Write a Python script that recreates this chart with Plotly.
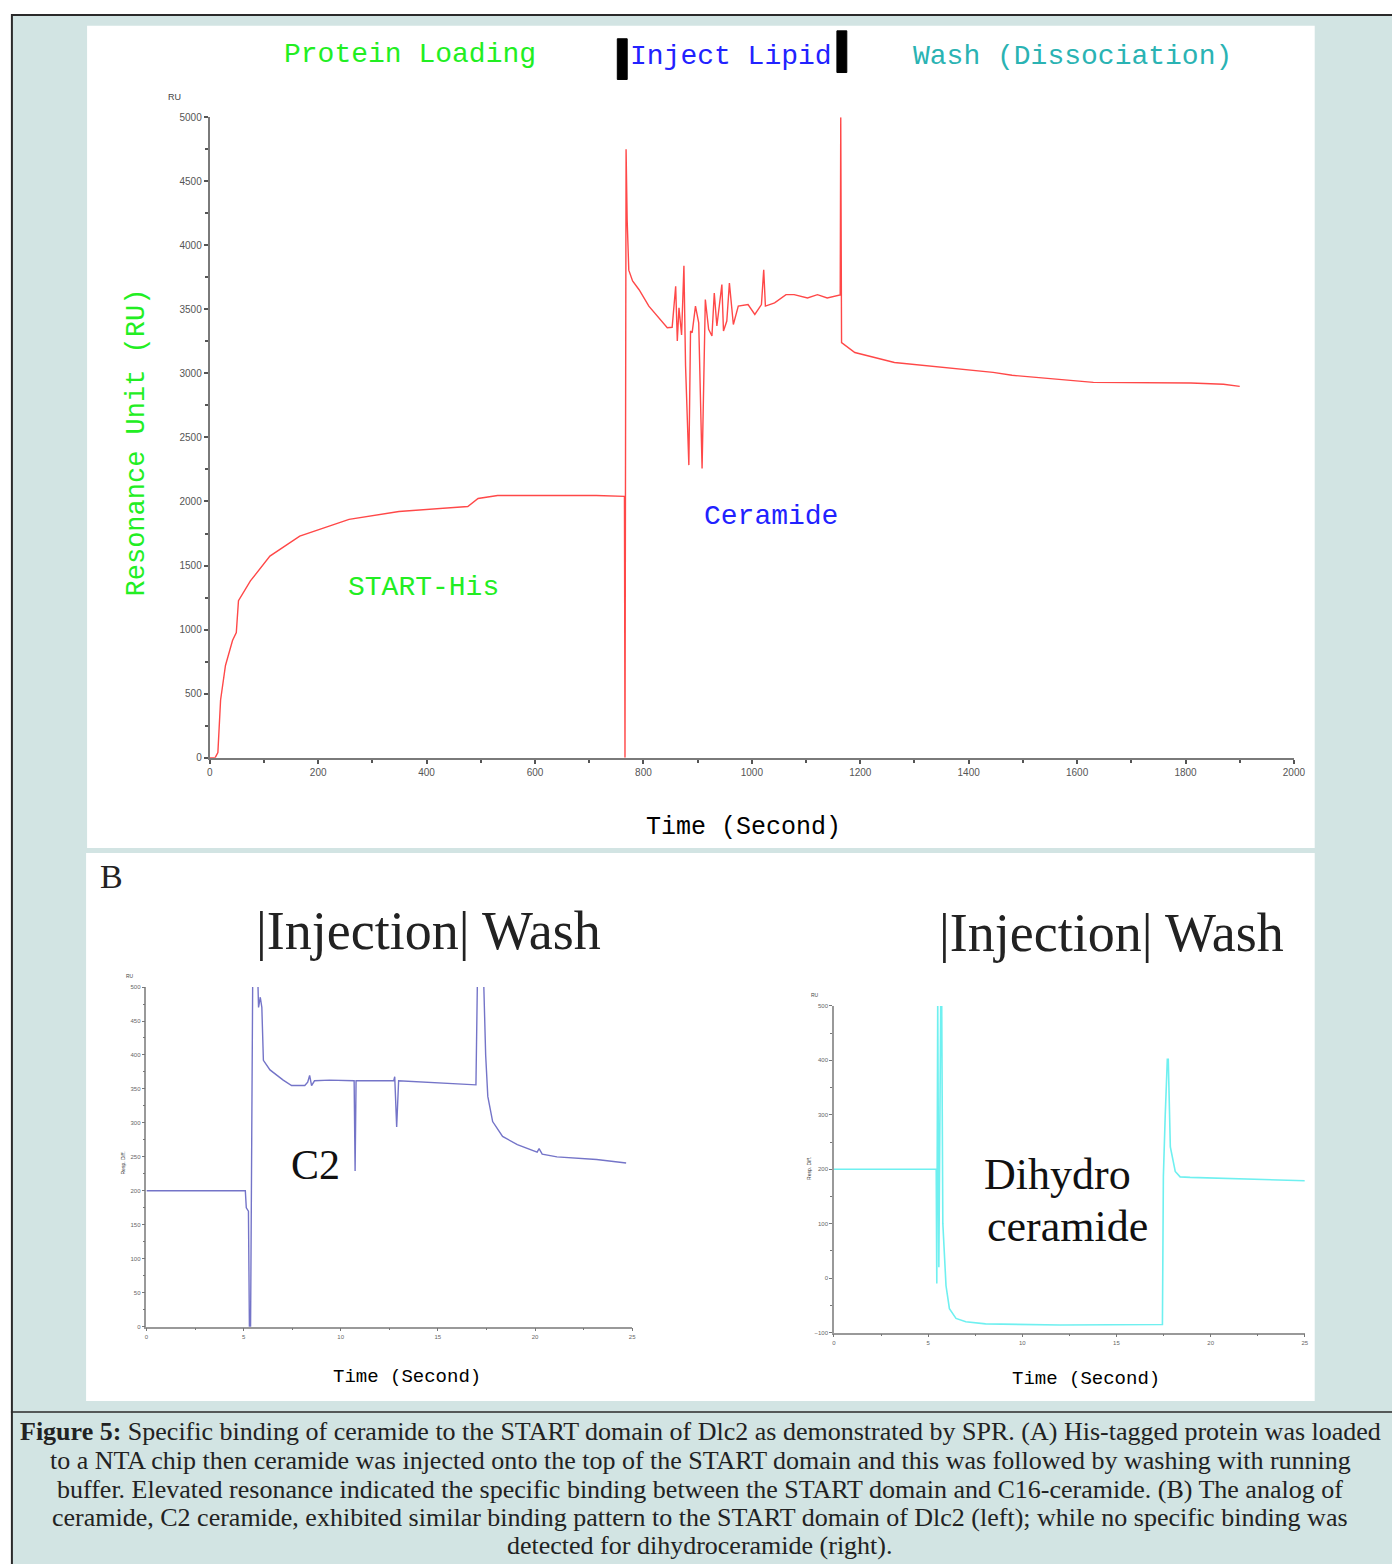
import plotly.graph_objects as go

W, H = 1392, 1564

# ---------------- data ----------------
# Panel A: START-His loading, ceramide injection, wash
a_time = [0, 10, 15, 20, 29, 42, 49, 53, 75, 111, 166, 257, 349, 476, 495, 531, 713, 765,
          766, 768, 770, 773, 780, 792, 810, 828, 844, 853, 859.5, 862.5, 865.6, 870.4,
          874.7, 877.7, 883.8, 886.9, 889.9, 896, 902, 908.2, 914.2, 920.3, 926.4, 930.7,
          935.5, 944.7, 947.7, 953.8, 958.6, 965.9, 975, 993, 1005.5, 1017.7, 1021.9, 1025,
          1042, 1063, 1078, 1102.7, 1121, 1139, 1163, 1164, 1165.5, 1190, 1263, 1445, 1480,
          1630, 1810, 1870, 1900]
a_ru = [0, 0, 40, 450, 720, 915, 977, 1225, 1380, 1574, 1729, 1860, 1922, 1961, 2023, 2047, 2047, 2040,
        0, 4750, 4200, 3806, 3721, 3653, 3525, 3434, 3357, 3360, 3680, 3253, 3512, 3300,
        3840, 3060, 2284, 3330, 3318, 3525, 3395, 2258, 3576, 3344, 3292, 3628,
        3370, 3693, 3331, 3409, 3705, 3382, 3525, 3537, 3460, 3537, 3809, 3525,
        3550, 3615, 3615, 3589, 3615, 3589, 3612, 5000, 3240, 3163, 3085, 3008, 2985,
        2930, 2925, 2915, 2899]

# Panel B left: C2 ceramide
c2_time = [0, 5.09, 5.14, 5.25, 5.30, 5.36, 5.42, 5.48, 5.69, 5.77, 5.86, 5.94, 6.02, 6.36, 7.04,
           7.47, 8.15, 8.30, 8.40, 8.50, 8.65, 9.42, 10.69, 10.74, 10.79, 12.73, 12.78, 12.88,
           12.98, 16.96, 17.06, 17.31, 17.46, 17.57, 17.82, 18.33, 19.09, 20.11, 20.21, 20.37,
           21.13, 23.17, 24.69]
c2_ru = [200, 200, 175, 170, 0, 0, 280, 560, 560, 470, 485, 470, 392, 378, 363,
         355, 355, 360, 370, 355, 362, 363, 362, 229, 362, 362, 368, 294,
         362, 356, 560, 560, 400, 339, 302, 280, 268, 257, 262, 254,
         250, 246, 241]

# Panel B right: dihydroceramide
dh_time = [0, 5.43, 5.46, 5.51, 5.57, 5.67, 5.72, 5.78, 5.95, 6.13, 6.48, 7.0, 8.05, 12.0, 17.44,
           17.49, 17.59, 17.70, 17.75, 17.86, 18.12, 18.38, 18.91, 21.53, 25.0]
dh_ru = [200, 200, -10, 510, 20, 510, 510, 101, -14, -56, -74, -80, -84, -86, -85,
         186, 300, 402, 402, 241, 196, 186, 185, 183, 179]

a_xticks = [0, 200, 400, 600, 800, 1000, 1200, 1400, 1600, 1800, 2000]
a_yticks = [0, 500, 1000, 1500, 2000, 2500, 3000, 3500, 4000, 4500, 5000]
b_xticks = [0, 5, 10, 15, 20, 25]
c2_yticks = [0, 50, 100, 150, 200, 250, 300, 350, 400, 450, 500]
dh_yticks = [-100, 0, 100, 200, 300, 400, 500]

caption_lines = [
    "<b>Figure 5:</b> Specific binding of ceramide to the START domain of Dlc2 as demonstrated by SPR. (A) His-tagged protein was loaded",
    "to a NTA chip then ceramide was injected onto the top of the START domain and this was followed by washing with running",
    "buffer. Elevated resonance indicated the specific binding between the START domain and C16-ceramide. (B) The analog of",
    "ceramide, C2 ceramide, exhibited similar binding pattern to the START domain of Dlc2 (left); while no specific binding was",
    "detected for dihydroceramide (right).",
]


def px(x):
    return x / W


def py(y):
    return 1 - y / H


fig = go.Figure()
fig.add_trace(go.Scatter(x=a_time, y=a_ru, mode="lines", line=dict(color="#ff4848", width=1.4),
                         xaxis="x", yaxis="y", showlegend=False))
fig.add_trace(go.Scatter(x=c2_time, y=c2_ru, mode="lines", line=dict(color="#7474c8", width=1.4),
                         xaxis="x2", yaxis="y2", showlegend=False))
fig.add_trace(go.Scatter(x=dh_time, y=dh_ru, mode="lines", line=dict(color="#6ff0f0", width=1.6),
                         xaxis="x3", yaxis="y3", showlegend=False))

axcommon = dict(showgrid=False, zeroline=False, showline=True, ticks="outside",
                fixedrange=True)

fig.update_layout(
    width=W, height=H, margin=dict(l=0, r=0, t=0, b=0),
    paper_bgcolor="white", plot_bgcolor="rgba(0,0,0,0)",
    xaxis=dict(domain=[px(209), px(1305)], range=[0, 2000], tickvals=a_xticks,
               linecolor="#7a7a7a", linewidth=2, tickcolor="#555", ticklen=4, tickwidth=1.5,
               tickfont=dict(family="Arial", size=10, color="#555"),
               minor=dict(ticks="outside", dtick=100, ticklen=3, tickcolor="#555"),
               anchor="y", **axcommon),
    yaxis=dict(domain=[py(758), py(113)], range=[0, 5000], tickvals=a_yticks,
               linecolor="#7a7a7a", linewidth=2, tickcolor="#555", ticklen=4, tickwidth=1.5,
               tickfont=dict(family="Arial", size=10, color="#555"),
               minor=dict(ticks="outside", dtick=250, ticklen=3, tickcolor="#555"),
               anchor="x", **axcommon),
    xaxis2=dict(domain=[px(145), px(636)], range=[0, 25], tickvals=b_xticks,
                linecolor="#999", linewidth=1.5, tickcolor="#777", ticklen=3,
                tickfont=dict(family="Arial", size=6, color="#666"),
                minor=dict(ticks="outside", dtick=2.5, ticklen=2, tickcolor="#777"),
                anchor="y2", **axcommon),
    yaxis2=dict(domain=[py(1331), py(989)], range=[0, 500], tickvals=c2_yticks,
                linecolor="#999", linewidth=1.5, tickcolor="#777", ticklen=3,
                tickfont=dict(family="Arial", size=6, color="#666"),
                minor=dict(ticks="outside", dtick=25, ticklen=2, tickcolor="#777"),
                anchor="x2", **axcommon),
    xaxis3=dict(domain=[px(840), px(1316)], range=[0, 25], tickvals=b_xticks,
                linecolor="#999", linewidth=1.5, tickcolor="#777", ticklen=3,
                tickfont=dict(family="Arial", size=6, color="#666"),
                minor=dict(ticks="outside", dtick=2.5, ticklen=2, tickcolor="#777"),
                anchor="y3", **axcommon),
    yaxis3=dict(domain=[py(1337), py(1008)], range=[-100, 500], tickvals=dh_yticks,
                linecolor="#999", linewidth=1.5, tickcolor="#777", ticklen=3,
                tickfont=dict(family="Arial", size=6, color="#666"),
                minor=dict(ticks="outside", dtick=50, ticklen=2, tickcolor="#777"),
                anchor="x3", **axcommon),
)

TEAL = "#d2e4e3"
shapes = [
    dict(type="rect", xref="paper", yref="paper", x0=px(9), x1=px(1420), y0=py(1600), y1=py(10),
         fillcolor=TEAL, line=dict(color="#2a2a2a", width=2), layer="below"),
    dict(type="line", xref="paper", yref="paper", x0=px(8), x1=px(1420), y0=py(1417), y1=py(1417),
         line=dict(color="#2a2a2a", width=1.5), layer="below"),
    dict(type="rect", xref="paper", yref="paper", x0=px(85), x1=px(1326), y0=py(849), y1=py(21),
         fillcolor="white", line=dict(width=0), layer="below"),
    dict(type="rect", xref="paper", yref="paper", x0=px(84), x1=px(1326), y0=py(1406), y1=py(854),
         fillcolor="white", line=dict(width=0), layer="below"),
    # black bars around "Inject Lipid"
    dict(type="rect", xref="paper", yref="paper", x0=px(621), x1=px(631), y0=py(75), y1=py(34),
         fillcolor="black", line=dict(color="black", width=1)),
    dict(type="rect", xref="paper", yref="paper", x0=px(843), x1=px(853), y0=py(68), y1=py(26),
         fillcolor="black", line=dict(color="black", width=1)),
]
fig.update_layout(shapes=shapes)

MONO = "Liberation Mono"
SERIF = "Liberation Serif"
ann = []


def text(x, y, s, size, color, family, xanchor="center", angle=0, yanchor="middle"):
    ann.append(dict(x=px(x), y=py(y), xref="paper", yref="paper", text=s, showarrow=False,
                    xanchor=xanchor, yanchor=yanchor, textangle=angle,
                    font=dict(size=size, color=color, family=family)))


GREEN = "#22ee22"
BLUE = "#2222ff"
text(411, 50, "Protein Loading", 28, GREEN, MONO)
text(736, 52, "Inject Lipid", 28, BLUE, MONO)
text(1081, 52, "Wash (Dissociation)", 28, "#2ab3b3", MONO)
text(135, 441, "Resonance Unit (RU)", 27, GREEN, MONO, angle=-90)
text(425, 587, "START-His", 28, GREEN, MONO)
text(776, 515, "Ceramide", 28, BLUE, MONO)
text(749, 828, "Time (Second)", 25, "black", MONO)
text(173, 93, "RU", 9, "#444", "Arial")

text(110, 878, "B", 34, "#222", SERIF)
text(430, 933, "|Injection| Wash", 54, "#222", SERIF)
text(1121, 935, "|Injection| Wash", 54, "#222", SERIF)
text(316, 1168, "C2", 42, "#111", SERIF)
text(1066, 1178, "Dihydro", 44, "#111", SERIF)
text(1076, 1230, "ceramide", 44, "#111", SERIF)
text(408, 1382, "Time (Second)", 19, "black", MONO)
text(1095, 1384, "Time (Second)", 19, "black", MONO)
text(128, 978, "RU", 5, "#444", "Arial")
text(821, 997, "RU", 5, "#444", "Arial")
text(121, 1166, "Resp. Diff.", 5, "#333", "Arial", angle=-90)
text(815, 1172, "Resp. Diff.", 5, "#333", "Arial", angle=-90)

cap_y = [1437, 1466, 1495, 1523, 1551]
for s, yy in zip(caption_lines, cap_y):
    text(705, yy, s, 26, "#222", SERIF)

fig.update_layout(annotations=ann)
fig.write_html("out.html")
